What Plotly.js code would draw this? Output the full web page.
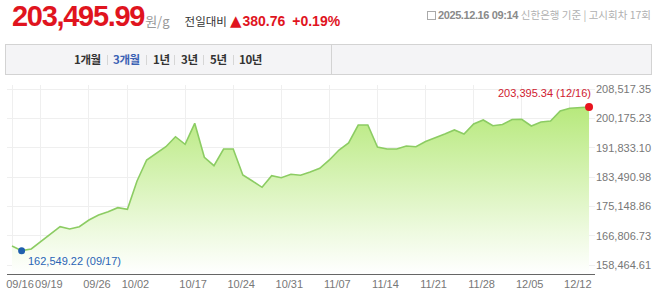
<!DOCTYPE html>
<html><head><meta charset="utf-8">
<script src="https://cdn.plot.ly/plotly-3.0.1.min.js"></script>
<style>
html,body{margin:0;padding:0;background:#fff;width:658px;height:300px;overflow:hidden;}
#chart{position:absolute;left:0;top:0;width:658px;height:300px;}
.ov{position:absolute;white-space:nowrap;pointer-events:none;z-index:5;}
#left{left:12px;top:0;height:33px;line-height:33px;}
#left .big{font-family:"Liberation Sans",Arial,sans-serif;font-weight:bold;font-size:29px;letter-spacing:-1.3px;color:#e0141e;}
#left .unit{margin-left:1px;font-family:"Noto Sans CJK KR",sans-serif;font-size:13px;color:#999;}
#left .cmp{margin-left:15px;font-family:"Noto Sans CJK KR",sans-serif;font-size:11.5px;color:#333;}
#left .chg{margin-left:3px;font-family:"Liberation Sans",Arial,sans-serif;font-weight:bold;font-size:14px;color:#e0141e;}
#left .pct{margin-left:7px;font-family:"Liberation Sans",Arial,sans-serif;font-weight:bold;font-size:14px;color:#e0141e;}
#left .tri{font-family:"DejaVu Sans",sans-serif;font-size:15px;margin-right:1px;}
#right{left:427px;top:7px;height:16px;line-height:16px;font-size:11px;color:#aaa;}
#right .ico{display:inline-block;width:7px;height:7px;border:1px solid #aaa;margin-right:2px;vertical-align:-1px;}
#right .dt{font-family:"Liberation Sans",Arial,sans-serif;font-weight:bold;color:#8a8a8a;letter-spacing:-0.4px;}
#right .bk{font-family:"Noto Sans CJK KR",sans-serif;font-size:10.5px;color:#b0b0b0;margin-left:3px;}
#bar{left:5px;top:44px;width:645px;height:29px;border:1px solid #d3d3d3;background:#f4f4f6;}
#bar .div{position:absolute;left:325px;top:0;width:1px;height:29px;background:#d3d3d3;}
#bar .b{position:absolute;top:0;line-height:29px;font-family:"Noto Sans CJK KR",sans-serif;font-weight:bold;font-size:11.5px;color:#333;letter-spacing:-0.4px;}
#bar .on{color:#3b62b4;}
#bar .s{position:absolute;top:10px;width:1px;height:10px;background:#d6d6d6;}
</style></head>
<body>
<div id="chart"></div>
<div class="ov" id="left"><span class="big">203,495.99</span><span class="unit">원/g</span><span class="cmp">전일대비</span><span class="chg"><span class="tri">▲</span>380.76</span><span class="pct">+0.19%</span></div>
<div class="ov" id="right"><span class="ico"></span><span class="dt">2025.12.16 09:14</span><span class="bk">신한은행 기준 | 고시회차 17회</span></div>
<div class="ov" id="bar">
  <span class="b" style="left:68px">1개월</span><span class="s" style="left:101px"></span>
  <span class="b on" style="left:107px">3개월</span><span class="s" style="left:140px"></span>
  <span class="b" style="left:147px">1년</span><span class="s" style="left:168px"></span>
  <span class="b" style="left:175px">3년</span><span class="s" style="left:197px"></span>
  <span class="b" style="left:204px">5년</span><span class="s" style="left:227px"></span>
  <span class="b" style="left:233px">10년</span>
  <span class="div"></span>
</div>
<script>
const dates = ['09/16','09/17','09/18','09/19','09/22','09/23','09/24','09/25','09/26','09/29','09/30',
  '10/01','10/02','10/10','10/13','10/14','10/15','10/16','10/17','10/20','10/21','10/22','10/23','10/24',
  '10/27','10/28','10/29','10/30','10/31','11/03','11/04','11/05','11/06','11/07','11/10','11/11','11/12','11/13','11/14',
  '11/17','11/18','11/19','11/20','11/21','11/24','11/25','11/26','11/27','11/28',
  '12/01','12/02','12/03','12/04','12/05','12/08','12/09','12/10','12/11','12/12','12/15','12/16'];
const prices = [163870, 162549.22, 163015, 165090, 167200, 169360, 168700, 169360, 171260, 172680, 173620,
  174760, 174300, 182350, 188330, 190230, 192110, 194950, 192790, 198760, 189090, 186700, 191450, 191450,
  184060, 182350, 180560, 183860, 183290, 184260, 183980, 184910, 185970, 188330, 191170, 193160, 198280, 198280, 192020,
  191450, 191450, 192310, 192110, 193590, 194580, 195720, 196860, 195720, 198570,
  199700, 198080, 198420, 199850, 199900, 198000, 199130, 199420, 202260, 203030, 203110, 203395.34];
const xTickDates = ['09/16','09/19','09/26','10/02','10/17','10/24','10/31','11/07','11/14','11/21','11/28','12/05','12/12'];
const yTickVals = [158464.61, 166806.73, 175148.86, 183490.98, 191833.10, 200175.23, 208517.35];
const yTickText = ['158,464.61','166,806.73','175,148.86','183,490.98','191,833.10','200,175.23','208,517.35'];
const minLabel = '162,549.22 (09/17)';
const maxLabel = '203,395.34 (12/16)';

const minIdx = prices.indexOf(Math.min(...prices));
const lastIdx = prices.length - 1;
const yLo = 155905.1, yHi = 209654.9;

const traces = [
  {x: dates, y: prices, type: 'scatter', mode: 'lines',
   line: {color: '#8ccc63', width: 1.6},
   fill: 'tozeroy',
   fillgradient: {type: 'vertical', start: yLo, stop: 203400,
     colorscale: [[0, 'rgba(255,255,255,1)'], [0.25, 'rgb(238,250,224)'], [1, 'rgb(183,233,124)']]},
   hoverinfo: 'skip'},
  {x: [dates[minIdx]], y: [prices[minIdx]], type: 'scatter', mode: 'markers',
   marker: {color: '#1f5fae', size: 7}, hoverinfo: 'skip'},
  {x: [dates[lastIdx]], y: [prices[lastIdx]], type: 'scatter', mode: 'markers',
   marker: {color: '#e8141e', size: 8}, hoverinfo: 'skip'}
];

const layout = {
  width: 658, height: 300,
  margin: {l: 7, r: 63, t: 85, b: 26, pad: 0},
  paper_bgcolor: 'rgba(0,0,0,0)', plot_bgcolor: 'rgba(0,0,0,0)',
  showlegend: false,
  font: {family: '"Liberation Sans", Arial, sans-serif', size: 11, color: '#777'},
  xaxis: {type: 'category', categoryorder: 'array', categoryarray: dates,
    range: [-0.52, 60.62], tickvals: xTickDates, ticktext: xTickDates, tickangle: 0,
    showgrid: true, gridcolor: '#efefef', gridwidth: 1,
    showline: true, linecolor: '#666', linewidth: 1, ticks: '',
    tickfont: {size: 11, color: '#777'}, ticklabelshift: 8, zeroline: false, fixedrange: true},
  yaxis: {side: 'right', range: [yLo, yHi], tickvals: yTickVals, ticktext: yTickText,
    showgrid: true, gridcolor: '#efefef', gridwidth: 1, zeroline: false, showline: false, ticks: '',
    tickfont: {size: 11, color: '#777'}, fixedrange: true},
  annotations: [
    {x: dates[minIdx], y: prices[minIdx], text: minLabel, showarrow: false,
     xanchor: 'left', yanchor: 'top', xshift: 4, yshift: -2,
     font: {size: 11, color: '#2a64b5'}},
    {x: dates[lastIdx], y: prices[lastIdx], text: maxLabel, showarrow: false,
     xanchor: 'right', yanchor: 'bottom', xshift: 4, yshift: 6,
     font: {size: 11, color: '#d0202f'}}
  ]
};
Plotly.newPlot('chart', traces, layout, {staticPlot: true, displayModeBar: false});
</script>
</body></html>
